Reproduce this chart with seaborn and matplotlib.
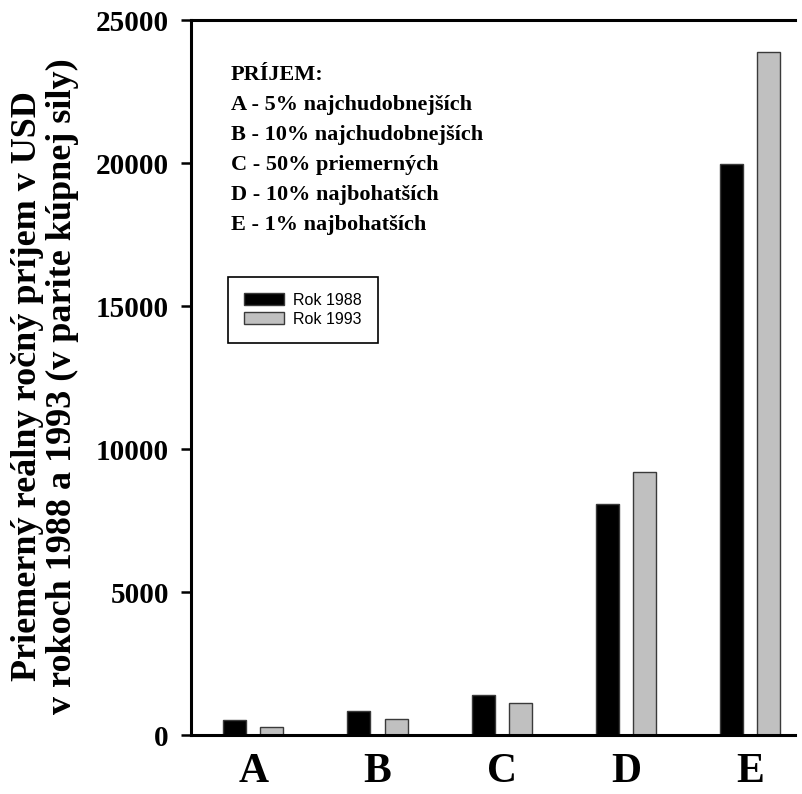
import pandas as pd
import matplotlib
matplotlib.use('Agg')
import matplotlib.pyplot as plt
import seaborn as sns

# hodnoty odcitane z obrazku
kategorie = ['A', 'B', 'C', 'D', 'E']
roky = ['Rok 1988', 'Rok 1993']
prijem_1988 = [530, 840, 1400, 8080, 19970]
prijem_1993 = [270, 550, 1120, 9210, 23880]
y_ticky = [0, 5000, 10000, 15000, 20000, 25000]
farby = ['#000000', '#c0c0c0']

popis = ('PRÍJEM:\n'
         'A - 5% najchudobnejších\n'
         'B - 10% najchudobnejších\n'
         'C - 50% priemerných\n'
         'D - 10% najbohatších\n'
         'E - 1% najbohatších')
y_nazov = 'Priemerný reálny ročný príjem v USD\nv rokoch 1988 a 1993 (v parite kúpnej sily)'

df = pd.DataFrame({
    'skupina': kategorie * 2,
    'prijem': prijem_1988 + prijem_1993,
    'rok': [roky[0]] * len(kategorie) + [roky[1]] * len(kategorie),
})

sns.set_style('ticks')
plt.rcParams['font.family'] = ['Liberation Serif', 'DejaVu Serif']
plt.rcParams['font.weight'] = 'bold'
plt.rcParams['text.color'] = 'black'
plt.rcParams['xtick.color'] = 'black'
plt.rcParams['ytick.color'] = 'black'
plt.rcParams['axes.labelcolor'] = 'black'

fig = plt.figure(figsize=(8.03, 7.94), dpi=100)
ax = fig.add_axes([0.238, 0.0743, 0.752, 0.9005])

sns.barplot(data=df, x='skupina', y='prijem', hue='rok', palette=farby,
            width=0.6, gap=0.38, edgecolor='#3a3a3a', linewidth=1.0, ax=ax)

ax.set_ylim(0, 25000)
ax.set_xlim(-0.5, 4.36)
ax.set_yticks(y_ticky)
ax.set_yticklabels([str(t) for t in y_ticky], fontsize=21, fontweight='bold')
ax.tick_params(axis='y', direction='out', length=7, width=1.8, pad=9)
ax.tick_params(axis='x', length=0, pad=13, labelsize=30)
for lab in ax.get_xticklabels():
    lab.set_fontweight('bold')
ax.set_xlabel('')
ax.set_ylabel('')

for s in ['left', 'bottom', 'top']:
    ax.spines[s].set_linewidth(2.2)
    ax.spines[s].set_color('black')
ax.spines['right'].set_visible(False)

# legenda
handles, labels = ax.get_legend_handles_labels()
leg = ax.legend(handles, labels, loc='upper left', bbox_to_anchor=(0.061, 0.641),
                borderaxespad=0, fancybox=False, framealpha=1, edgecolor='black',
                prop={'family': 'Liberation Sans', 'size': 11.5, 'weight': 'normal'},
                handlelength=2.5, handleheight=0.8, handletextpad=0.6,
                labelspacing=0.25, borderpad=1.0)
leg.get_frame().set_linewidth(1.2)

# textovy popis
ax.text(0.066, 0.937, popis, transform=ax.transAxes, ha='left', va='top',
        fontsize=16, fontweight='bold', linespacing=1.66)

fig.text(45 / 803, 1 - 386 / 794, y_nazov, rotation=90, ha='center', va='center',
         multialignment='center', fontsize=26, fontweight='bold', linespacing=1.1)

plt.savefig('out.png', dpi=100)
